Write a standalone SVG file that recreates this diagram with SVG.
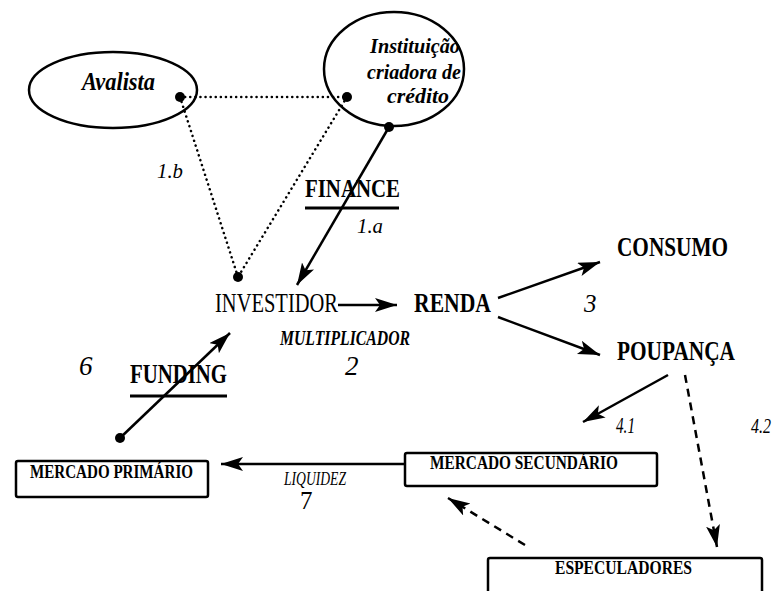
<svg xmlns="http://www.w3.org/2000/svg" width="779" height="591" viewBox="0 0 779 591">
<style>
text{font-family:"Liberation Serif","Times New Roman",serif;fill:#000}
.b{font-weight:bold}
.i{font-style:italic}
.bi{font-weight:bold;font-style:italic}
.sm{font-size:19px;font-weight:bold}
.solid{stroke:#000;stroke-width:2.5;fill:none}
.dot{stroke:#000;stroke-width:2.5;fill:none;stroke-dasharray:0.1 5;stroke-linecap:round}
.dash{stroke:#000;stroke-width:2.5;fill:none;stroke-dasharray:8 6}
.box{fill:#fff;stroke:#000;stroke-width:2.5}
.ell{fill:#fff;stroke:#000;stroke-width:2.5}
</style>
<defs>
<marker id="ah" markerUnits="userSpaceOnUse" markerWidth="24" markerHeight="16" refX="22" refY="7" orient="auto">
<path d="M0,0 L22,7 L0,14 L5,7 Z" fill="#000"/>
</marker>
</defs>
<rect width="779" height="591" fill="#fff"/>
<g id="avalista">
<ellipse class="ell" cx="113" cy="90" rx="84" ry="38"/>
<text class="bi" x="82" y="90" font-size="26" textLength="73" lengthAdjust="spacingAndGlyphs">Avalista</text>
</g>
<g id="instituicao">
<ellipse class="ell" cx="394" cy="69" rx="70" ry="57"/>
<text class="bi" x="370" y="53" font-size="22" textLength="90" lengthAdjust="spacingAndGlyphs">Instituição</text>
<text class="bi" x="367" y="79" font-size="22" textLength="94" lengthAdjust="spacingAndGlyphs">criadora de</text>
<text class="bi" x="387" y="103" font-size="22" textLength="62" lengthAdjust="spacingAndGlyphs">crédito</text>
</g>
<g id="investidor">
<text x="215" y="312" font-size="27" textLength="123" lengthAdjust="spacingAndGlyphs">INVESTIDOR</text>
</g>
<g id="renda">
<text class="b" x="414" y="312" font-size="27" textLength="77" lengthAdjust="spacingAndGlyphs">RENDA</text>
</g>
<g id="consumo">
<text class="b" x="617" y="256" font-size="27" textLength="111" lengthAdjust="spacingAndGlyphs">CONSUMO</text>
</g>
<g id="poupanca">
<text class="b" x="617" y="360" font-size="27" textLength="118" lengthAdjust="spacingAndGlyphs">POUPANÇA</text>
</g>
<g id="mercado-secundario">
<rect class="box" x="405" y="453" width="252" height="33" rx="2"/>
<text class="sm" x="430" y="469" textLength="188" lengthAdjust="spacingAndGlyphs">MERCADO SECUNDÁRIO</text>
</g>
<g id="mercado-primario">
<rect class="box" x="16" y="461" width="192" height="36" rx="2"/>
<text class="sm" x="30" y="478" textLength="163" lengthAdjust="spacingAndGlyphs">MERCADO PRIMÁRIO</text>
</g>
<g id="especuladores">
<rect class="box" x="488" y="558" width="274" height="40" rx="2"/>
<text class="sm" x="555" y="574" textLength="137" lengthAdjust="spacingAndGlyphs">ESPECULADORES</text>
</g>
<g id="connectors">
<line class="dot" x1="180" y1="97" x2="347" y2="97"/>
<line class="dot" x1="180" y1="97" x2="238" y2="277"/>
<line class="dot" x1="347" y1="97" x2="238" y2="277"/>
<line class="solid" x1="389" y1="127" x2="297" y2="285" marker-end="url(#ah)"/>
<line class="solid" x1="338" y1="305" x2="397" y2="305" marker-end="url(#ah)"/>
<line class="solid" x1="498" y1="298" x2="600" y2="262" marker-end="url(#ah)"/>
<line class="solid" x1="498" y1="317" x2="600" y2="355" marker-end="url(#ah)"/>
<line class="solid" x1="668" y1="375" x2="583" y2="422" marker-end="url(#ah)"/>
<line class="dash" x1="685" y1="375" x2="717" y2="547" marker-end="url(#ah)"/>
<line class="solid" x1="405" y1="464" x2="221" y2="464" marker-end="url(#ah)"/>
<line class="dash" x1="525" y1="545" x2="448" y2="498" marker-end="url(#ah)"/>
<line class="solid" x1="120" y1="438" x2="230" y2="333" marker-end="url(#ah)"/>
<circle cx="180" cy="97" r="5"/>
<circle cx="347" cy="97" r="5"/>
<circle cx="389" cy="127" r="5"/>
<circle cx="238" cy="277" r="5"/>
<circle cx="120" cy="438" r="5"/>
</g>
<g id="labels">
<text class="i" x="157" y="178" font-size="22" textLength="26" lengthAdjust="spacingAndGlyphs">1.b</text>
<text class="b" x="305" y="197" font-size="26" textLength="95" lengthAdjust="spacingAndGlyphs">FINANCE</text>
<line x1="305" y1="208" x2="399" y2="208" stroke="#000" stroke-width="3"/>
<text class="i" x="357" y="233" font-size="22" textLength="26" lengthAdjust="spacingAndGlyphs">1.a</text>
<text class="bi" x="280" y="345" font-size="20" textLength="130" lengthAdjust="spacingAndGlyphs">MULTIPLICADOR</text>
<text class="i" x="345" y="375" font-size="27">2</text>
<text class="i" x="584" y="312" font-size="25">3</text>
<text class="i" x="616" y="433" font-size="24" textLength="19" lengthAdjust="spacingAndGlyphs">4.1</text>
<text class="i" x="751" y="433" font-size="22" textLength="20" lengthAdjust="spacingAndGlyphs">4.2</text>
<text class="i" x="79" y="375" font-size="27">6</text>
<text class="b" x="130" y="383" font-size="27" textLength="97" lengthAdjust="spacingAndGlyphs">FUNDING</text>
<line x1="130" y1="396" x2="227" y2="396" stroke="#000" stroke-width="3"/>
<text class="i" x="284" y="485" font-size="18" textLength="62" lengthAdjust="spacingAndGlyphs">LIQUIDEZ</text>
<text x="300" y="509" font-size="25">7</text>
</g>
</svg>
